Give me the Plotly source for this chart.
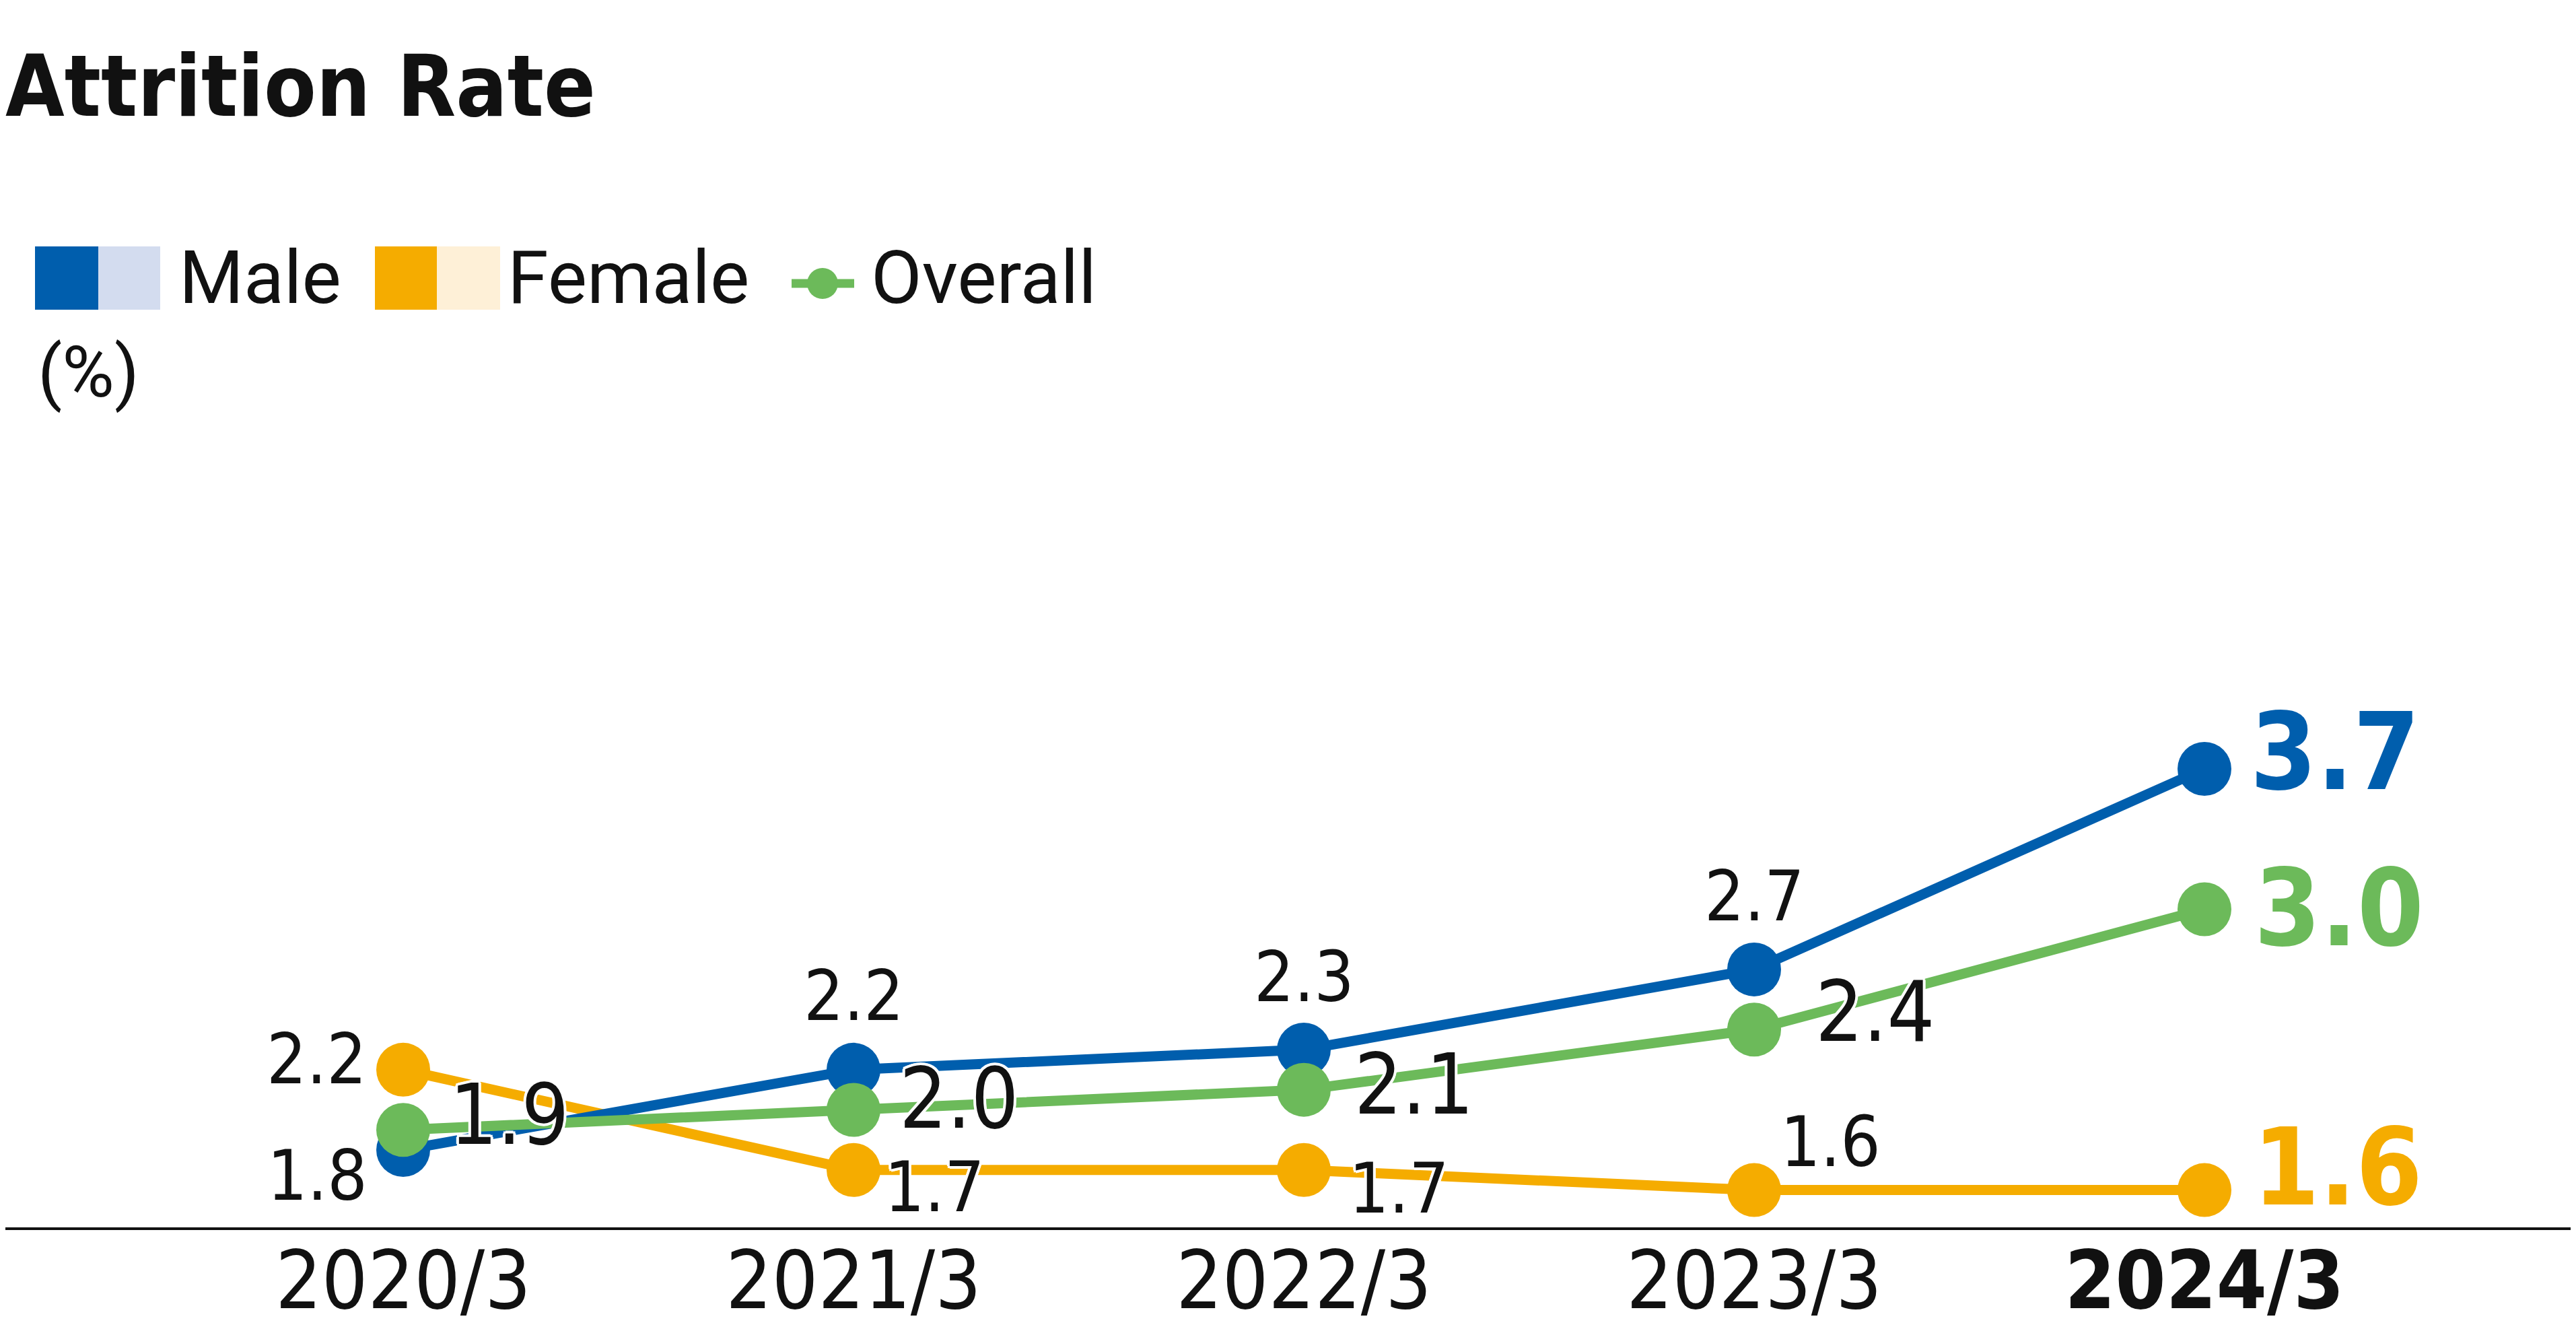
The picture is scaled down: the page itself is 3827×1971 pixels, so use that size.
import plotly.graph_objects as go

# ---------------- data ----------------
categories = ["2020/3", "2021/3", "2022/3", "2023/3", "2024/3"]
male = [1.8, 2.2, 2.3, 2.7, 3.7]
female = [2.2, 1.7, 1.7, 1.6, 1.6]
overall = [1.9, 2.0, 2.1, 2.4, 3.0]
series_names = ["Male", "Female", "Overall"]
title_text = "Attrition Rate"
unit_text = "(%)"

# ---------------- layout constants ----------------
W, H = 3827, 1971
ML, MR, MT, MB = 0, 0, 592, 156
PW, PH = W - ML - MR, H - MT - MB
Y_BOTTOM = 1.414
Y_PER_PX = 1 / 297.9
X_STEP = 669.0
X0_PX = 591.0


def px(xp):
    return (xp - ML) / PW


def py(yp):
    return (H - MB - yp) / PH


BLUE = "#005EAD"
ORANGE = "#F5AC00"
GREEN = "#6CBA5A"
LBLUE = "#D3DCEF"
LORANGE = "#FEF0D7"
INK = "#111111"
NARROW = "DejaVu Sans Condensed, Liberation Sans Narrow, sans-serif"
LEGF = "Roboto, sans-serif"
HALO = ("white 4px 0px 0px, white -4px 0px 0px, white 0px 4px 0px, white 0px -4px 0px, "
        "white 3px 3px 0px, white -3px -3px 0px, white 3px -3px 0px, white -3px 3px 0px")

x = list(range(len(categories)))

fig = go.Figure()
for vals, color, name in [(female, ORANGE, series_names[1]),
                          (male, BLUE, series_names[0]),
                          (overall, GREEN, series_names[2])]:
    fig.add_trace(go.Scatter(
        x=x, y=vals, mode="lines+markers", name=name,
        line=dict(color=color, width=15),
        marker=dict(size=80, color=color),
        showlegend=False, cliponaxis=False, hoverinfo="skip"))

# label offsets (px): (xanchor, xshift, yshift)
male_off = [("center", -128, -38), ("center", 0, 110), ("center", 0, 108),
            ("center", 0, 109), ("left", 66, 25)]
female_off = [("center", -129, 16), ("center", 120, -25), ("center", 141, -27),
              ("center", 113, 72), ("left", 70, 34)]
overall_off = [("left", 67, 22), ("left", 66, 16), ("left", 73, 8),
               ("left", 89, 26), ("left", 72, 2)]

annotations = []
for vals, offs, color, small in [(male, male_off, BLUE, 104),
                                 (female, female_off, ORANGE, 104),
                                 (overall, overall_off, GREEN, 124)]:
    n = len(vals)
    for i, v in enumerate(vals):
        anc, xs, ys = offs[i]
        last = i == n - 1
        annotations.append(dict(
            x=x[i], y=v, xref="x", yref="y",
            text=(f"<b>{v:.1f}</b>" if last else f"{v:.1f}"),
            showarrow=False, xanchor=anc, yanchor="middle",
            xshift=xs, yshift=ys,
            font=dict(family=NARROW, size=(158 if last else small),
                      color=(color if last else INK),
                      shadow=("none" if last else HALO))))

# legend texts
for label, xp in [(series_names[0], 256), (series_names[1], 744), (series_names[2], 1284)]:
    annotations.append(dict(x=px(xp), y=py(405), xref="paper", yref="paper",
                            text=label, showarrow=False, xanchor="left", yanchor="middle",
                            font=dict(family=LEGF, size=110, color=INK)))
annotations.append(dict(x=px(46), y=py(545), xref="paper", yref="paper",
                        text=unit_text, showarrow=False, xanchor="left", yanchor="middle",
                        font=dict(family=LEGF, size=106, color=INK)))

shapes = [
    dict(type="rect", xref="paper", yref="paper", x0=px(44), x1=px(138), y0=py(452), y1=py(358),
         fillcolor=BLUE, line=dict(width=0)),
    dict(type="rect", xref="paper", yref="paper", x0=px(138), x1=px(230), y0=py(452), y1=py(358),
         fillcolor=LBLUE, line=dict(width=0)),
    dict(type="rect", xref="paper", yref="paper", x0=px(549), x1=px(641), y0=py(452), y1=py(358),
         fillcolor=ORANGE, line=dict(width=0)),
    dict(type="rect", xref="paper", yref="paper", x0=px(641), x1=px(735), y0=py(452), y1=py(358),
         fillcolor=LORANGE, line=dict(width=0)),
    dict(type="line", xref="paper", yref="paper", x0=px(1168), x1=px(1261), y0=py(413), y1=py(413),
         line=dict(color=GREEN, width=13)),
    dict(type="circle", xref="paper", yref="paper", x0=px(1191), x1=px(1237), y0=py(436), y1=py(390),
         fillcolor=GREEN, line=dict(width=0)),
]

ticktext = [c if i < len(categories) - 1 else f"<b>{c}</b>" for i, c in enumerate(categories)]

fig.update_layout(
    width=W, height=H,
    margin=dict(l=ML, r=MR, t=MT, b=MB, pad=0, autoexpand=False),
    paper_bgcolor="white", plot_bgcolor="white",
    template="none",
    showlegend=False,
    title=dict(text=f"<b>{title_text}</b>", x=0, xref="container", xanchor="left",
               y=1 - 120 / H, yref="container", yanchor="middle", pad=dict(l=0, t=0, b=0, r=0),
               font=dict(family=NARROW, size=126, color=INK)),
    xaxis=dict(range=[-X0_PX / X_STEP, (PW - X0_PX) / X_STEP], tickvals=x, ticktext=ticktext,
               showgrid=False, zeroline=False, showline=True, linecolor=INK, linewidth=4,
               ticks="", automargin=False, ticklabelstandoff=-28,
               tickfont=dict(family=NARROW, size=120, color=INK)),
    yaxis=dict(range=[Y_BOTTOM, Y_BOTTOM + PH * Y_PER_PX], visible=False,
               showgrid=False, zeroline=False, automargin=False),
    annotations=annotations,
    shapes=shapes,
)

fig.write_html("out.html")
